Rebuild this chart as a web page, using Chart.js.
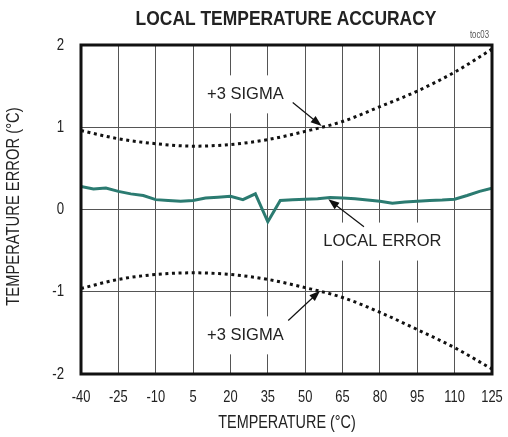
<!DOCTYPE html>
<html>
<head>
<meta charset="utf-8">
<script src="https://cdn.jsdelivr.net/npm/chart.js@4.4.1/dist/chart.umd.min.js"></script>
<style>
  html, body { margin: 0; padding: 0; background: #fff; }
  #wrap { width: 508px; height: 437px; }
</style>
</head>
<body>
<div id="wrap"><canvas id="grafico" width="508" height="437"></canvas></div>
<script>
// datos
const tempError = [-40, -35, -30, -25, -20, -15, -10, -5, 0, 5, 10, 15, 20, 25, 30, 35, 40, 45, 50, 55, 60,
    65, 70, 75, 80, 85, 90, 95, 100, 105, 110, 115, 120, 125];
const errorLocal = [0.28, 0.25, 0.26, 0.22, 0.19, 0.17, 0.12, 0.11, 0.10, 0.11, 0.14, 0.15, 0.16, 0.12, 0.19, -0.15,
    0.11, 0.12, 0.125, 0.13, 0.145, 0.14, 0.13, 0.115, 0.10, 0.075, 0.09, 0.10, 0.11, 0.115, 0.125, 0.17, 0.22, 0.26];

const tempSigma = [-40, -25, -10, 5, 20, 35, 50, 65, 80, 95, 110, 125];
const sigmaArriba = [0.96, 0.86, 0.80, 0.77, 0.79, 0.85, 0.95, 1.07, 1.25, 1.44, 1.67, 1.95];
const sigmaAbajo = [-0.96, -0.85, -0.79, -0.77, -0.79, -0.85, -0.95, -1.07, -1.25, -1.46, -1.68, -1.94];

const ticksX = [-40, -25, -10, 5, 20, 35, 50, 65, 80, 95, 110, 125];
const ticksY = [-2, -1, 0, 1, 2];

// etiquetas con flecha, en unidades de los ejes
const etiquetas = [
    { texto: "+3 SIGMA", x: 26, y: 1.40, desde: [45, 1.30], hasta: [56.6, 1.015] },
    { texto: "LOCAL ERROR", x: 81, y: -0.39, desde: [73.6, -0.21], hasta: [59.3, 0.124] },
    { texto: "+3 SIGMA", x: 26, y: -1.53, desde: [43.2, -1.35], hasta: [56, -0.987] }
];

const pares = (xs, ys) => xs.map((x, i) => ({ x: x, y: ys[i] }));

// la fuente original es angosta: se comprime en horizontal
function textoAngosto(ctx, texto, x, y, escala, align) {
    ctx.save();
    ctx.translate(x, y);
    ctx.scale(escala, 1);
    ctx.textAlign = align;
    ctx.textBaseline = "middle";
    ctx.fillText(texto, 0, 0);
    ctx.restore();
}

function flecha(ctx, x1, y1, x2, y2) {
    const ang = Math.atan2(y2 - y1, x2 - x1);
    const largo = 11, ancho = 4;
    ctx.beginPath();
    ctx.moveTo(x1, y1);
    ctx.lineTo(x2 - Math.cos(ang) * largo * 0.8, y2 - Math.sin(ang) * largo * 0.8);
    ctx.strokeStyle = "#111";
    ctx.lineWidth = 1.2;
    ctx.stroke();
    ctx.beginPath();
    ctx.moveTo(x2, y2);
    ctx.lineTo(x2 - Math.cos(ang) * largo - Math.sin(ang) * ancho, y2 - Math.sin(ang) * largo + Math.cos(ang) * ancho);
    ctx.lineTo(x2 - Math.cos(ang) * largo + Math.sin(ang) * ancho, y2 - Math.sin(ang) * largo - Math.cos(ang) * ancho);
    ctx.closePath();
    ctx.fillStyle = "#111";
    ctx.fill();
}

const fuente = "'Liberation Sans', Arial, sans-serif";

const extras = {
    id: "extras",
    afterDatasetsDraw(chart) {
        const ctx = chart.ctx;
        const sx = chart.scales.x, sy = chart.scales.y;
        const area = chart.chartArea;
        ctx.save();

        // textos con fondo blanco
        ctx.font = "16.5px " + fuente;
        ctx.textAlign = "center";
        ctx.textBaseline = "middle";
        etiquetas.forEach(e => {
            const px = sx.getPixelForValue(e.x), py = sy.getPixelForValue(e.y);
            const w = ctx.measureText(e.texto).width;
            ctx.fillStyle = "#fff";
            ctx.fillRect(px - w / 2 - 5, py - 19, w + 10, 38);
            ctx.fillStyle = "#222";
            ctx.fillText(e.texto, px, py);
            flecha(ctx, sx.getPixelForValue(e.desde[0]), sy.getPixelForValue(e.desde[1]),
                sx.getPixelForValue(e.hasta[0]), sy.getPixelForValue(e.hasta[1]));
        });

        // marco grueso
        ctx.strokeStyle = "#111";
        ctx.lineWidth = 3;
        ctx.strokeRect(area.left, area.top, area.right - area.left, area.bottom - area.top);

        // etiquetas de los ejes
        ctx.fillStyle = "#222";
        ctx.font = "17px " + fuente;
        sx.ticks.forEach(t => textoAngosto(ctx, String(t.value), sx.getPixelForValue(t.value), area.bottom + 23, 0.76, "center"));
        sy.ticks.forEach(t => textoAngosto(ctx, String(t.value), area.left - 17, sy.getPixelForValue(t.value), 0.78, "right"));

        ctx.font = "18px " + fuente;
        textoAngosto(ctx, "TEMPERATURE (°C)", 287, 423, 0.8, "center");
        ctx.save();
        ctx.translate(14, (area.top + area.bottom) / 2 - 3);
        ctx.rotate(-Math.PI / 2);
        textoAngosto(ctx, "TEMPERATURE ERROR (°C)", 0, 0, 0.82, "center");
        ctx.restore();

        // titulo
        ctx.font = "bold 21px " + fuente;
        textoAngosto(ctx, "LOCAL TEMPERATURE ACCURACY", 286, 19, 0.83, "center");

        ctx.font = "10px " + fuente;
        ctx.fillStyle = "#555";
        textoAngosto(ctx, "toc03", 489, 35, 0.78, "right");
        ctx.restore();
    }
};

new Chart(document.getElementById("grafico").getContext("2d"), {
    type: "line",
    data: {
        datasets: [
            {
                data: pares(tempSigma, sigmaArriba),
                borderColor: "#111",
                borderWidth: 3,
                borderDash: [3, 3.6],
                borderCapStyle: "butt",
                cubicInterpolationMode: "monotone",
                pointRadius: 0,
                fill: false
            },
            {
                data: pares(tempSigma, sigmaAbajo),
                borderColor: "#111",
                borderWidth: 3,
                borderDash: [3, 3.6],
                borderCapStyle: "butt",
                cubicInterpolationMode: "monotone",
                pointRadius: 0,
                fill: false
            },
            {
                data: pares(tempError, errorLocal),
                borderColor: "#2b7b71",
                borderWidth: 3,
                tension: 0,
                pointRadius: 0,
                fill: false
            }
        ]
    },
    options: {
        responsive: false,
        animation: false,
        events: [],
        layout: { padding: { top: 45, right: 16, bottom: 0, left: 0 } },
        plugins: {
            legend: { display: false },
            tooltip: { enabled: false }
        },
        scales: {
            x: {
                type: "linear",
                min: -40,
                max: 125,
                afterBuildTicks: s => { s.ticks = ticksX.map(v => ({ value: v })); },
                afterFit: s => { s.height = 63; },
                grid: { color: "#555", lineWidth: 1, drawTicks: false },
                border: { display: false },
                ticks: { display: false }
            },
            y: {
                min: -2,
                max: 2,
                afterBuildTicks: s => { s.ticks = ticksY.map(v => ({ value: v })); },
                afterFit: s => { s.width = 81; },
                grid: { color: "#555", lineWidth: 1, drawTicks: false },
                border: { display: false },
                ticks: { display: false }
            }
        }
    },
    plugins: [extras]
});
</script>
</body>
</html>
